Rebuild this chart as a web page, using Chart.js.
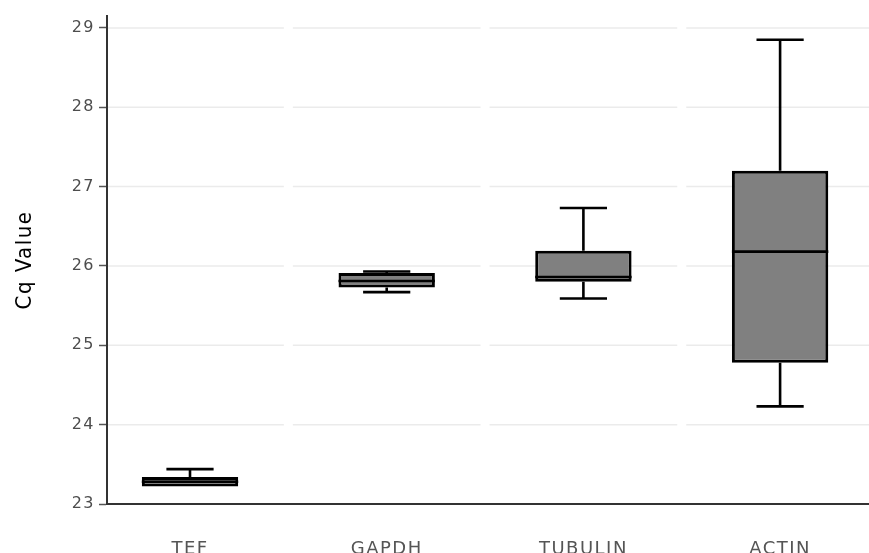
<!DOCTYPE html>
<html>
<head>
<meta charset="utf-8">
<script src="https://cdn.jsdelivr.net/npm/chart.js@4.4.1/dist/chart.umd.min.js"></script>
<style>
  html, body { margin: 0; padding: 0; background: #ffffff; }
  #wrap { width: 869px; height: 553px; }
</style>
</head>
<body>
<div id="wrap"><canvas id="c" width="869" height="553"></canvas></div>
<script>
// ---- data ----
const categories = ['TEF', 'GAPDH', 'TUBULIN', 'ACTIN'];
const whiskerLow  = [23.22, 25.67, 25.59, 24.23];
const quartile1   = [23.22, 25.73, 25.80, 24.78];
const medians     = [23.28, 25.81, 25.86, 26.18];
const quartile3   = [23.34, 25.91, 26.19, 27.20];
const whiskerHigh = [23.44, 25.93, 26.73, 28.85];
const yTicks      = [23, 24, 25, 26, 27, 28, 29];

const boxData = categories.map((c, i) => ({ x: i, y: [quartile1[i], quartile3[i]] }));

const textSpacing = {
  id: 'textSpacing',
  beforeDraw(chart) { chart.ctx.letterSpacing = '1.5px'; },
  afterDraw(chart) { chart.ctx.letterSpacing = '0px'; }
};

const segmentedGrid = {
  id: 'segmentedGrid',
  beforeDatasetsDraw(chart) {
    const { ctx, chartArea, scales } = chart;
    const xs = scales.x, ys = scales.y;
    const bounds = [chartArea.left];
    for (let i = 0; i < categories.length - 1; i++) bounds.push(xs.getPixelForValue(i + 0.5));
    bounds.push(chartArea.right);
    ctx.save();
    ctx.strokeStyle = '#ebebeb';
    ctx.lineWidth = 1.5;
    yTicks.forEach((v, k) => {
      if (k === 0) return;
      const py = ys.getPixelForValue(v);
      for (let s = 0; s < bounds.length - 1; s++) {
        const a = s === 0 ? bounds[s] + 1 : bounds[s] + 4.5;
        const b = s === bounds.length - 2 ? bounds[s + 1] : bounds[s + 1] - 4.5;
        ctx.beginPath();
        ctx.moveTo(a, py);
        ctx.lineTo(b, py);
        ctx.stroke();
      }
    });
    ctx.restore();
  }
};

const boxParts = {
  id: 'boxParts',
  afterDatasetsDraw(chart) {
    const { ctx, scales } = chart;
    const xs = scales.x, ys = scales.y;
    const meta = chart.getDatasetMeta(0);
    ctx.save();
    ctx.strokeStyle = '#000000';
    ctx.lineWidth = 2.6;
    ctx.lineCap = 'butt';
    categories.forEach((c, i) => {
      const cx = xs.getPixelForValue(i);
      const capHalf = Math.abs(xs.getPixelForValue(i + 0.12) - cx);
      const bar = meta.data[i];
      const half = bar.width / 2;
      const pMin = ys.getPixelForValue(whiskerLow[i]);
      const pQ1 = ys.getPixelForValue(quartile1[i]);
      const pMed = ys.getPixelForValue(medians[i]);
      const pQ3 = ys.getPixelForValue(quartile3[i]);
      const pMax = ys.getPixelForValue(whiskerHigh[i]);
      ctx.beginPath();
      ctx.moveTo(cx, pQ3); ctx.lineTo(cx, pMax);
      ctx.moveTo(cx - capHalf, pMax); ctx.lineTo(cx + capHalf, pMax);
      ctx.stroke();
      if (pMin - pQ1 > 0.5) {
        ctx.beginPath();
        ctx.moveTo(cx, pQ1); ctx.lineTo(cx, pMin);
        ctx.moveTo(cx - capHalf, pMin); ctx.lineTo(cx + capHalf, pMin);
        ctx.stroke();
      }
      ctx.beginPath();
      ctx.moveTo(cx - half, pMed); ctx.lineTo(cx + half, pMed);
      ctx.stroke();
    });
    ctx.restore();
  }
};

new Chart(document.getElementById('c'), {
  type: 'bar',
  data: {
    datasets: [{
      data: boxData,
      backgroundColor: '#808080',
      borderColor: '#000000',
      borderWidth: 3,
      borderSkipped: false,
      categoryPercentage: 0.49,
      barPercentage: 1.0
    }]
  },
  options: {
    responsive: false,
    animation: false,
    layout: { padding: { top: 16, right: 0, left: 0, bottom: 0 } },
    plugins: { legend: { display: false }, tooltip: { enabled: false } },
    scales: {
      x: {
        type: 'linear',
        offset: false,
        min: -0.422,
        max: 3.452,
        afterBuildTicks: (s) => { s.ticks = categories.map((c, i) => ({ value: i })); },
        afterFit: (s) => { s.height = 49; },
        grid: { display: false, offset: false },
        border: { display: true, color: '#333333', width: 2 },
        ticks: {
          autoSkip: false,
          maxRotation: 0,
          padding: 27,
          color: '#555555',
          font: { family: 'DejaVu Sans', size: 18 },
          callback: (v) => categories[v] !== undefined ? categories[v] : ''
        }
      },
      y: {
        min: 23,
        max: 29.15,
        afterBuildTicks: (s) => { s.ticks = yTicks.map(v => ({ value: v })); },
        afterFit: (s) => { s.width = 107; },
        grid: { color: 'rgba(0,0,0,0)', tickColor: '#555555', tickLength: 8, tickWidth: 1.5 },
        border: { display: true, color: '#333333', width: 2 },
        ticks: {
          padding: 4,
          color: '#4d4d4d',
          font: { family: 'DejaVu Sans', size: 16 }
        },
        title: {
          display: true,
          text: 'Cq Value',
          color: '#000000',
          font: { family: "'Liberation Sans Narrow', 'DejaVu Sans Condensed', 'Liberation Sans', sans-serif", size: 22 },
          padding: { top: 12, bottom: 0 }
        }
      }
    }
  },
  plugins: [textSpacing, segmentedGrid, boxParts]
});
</script>
</body>
</html>
